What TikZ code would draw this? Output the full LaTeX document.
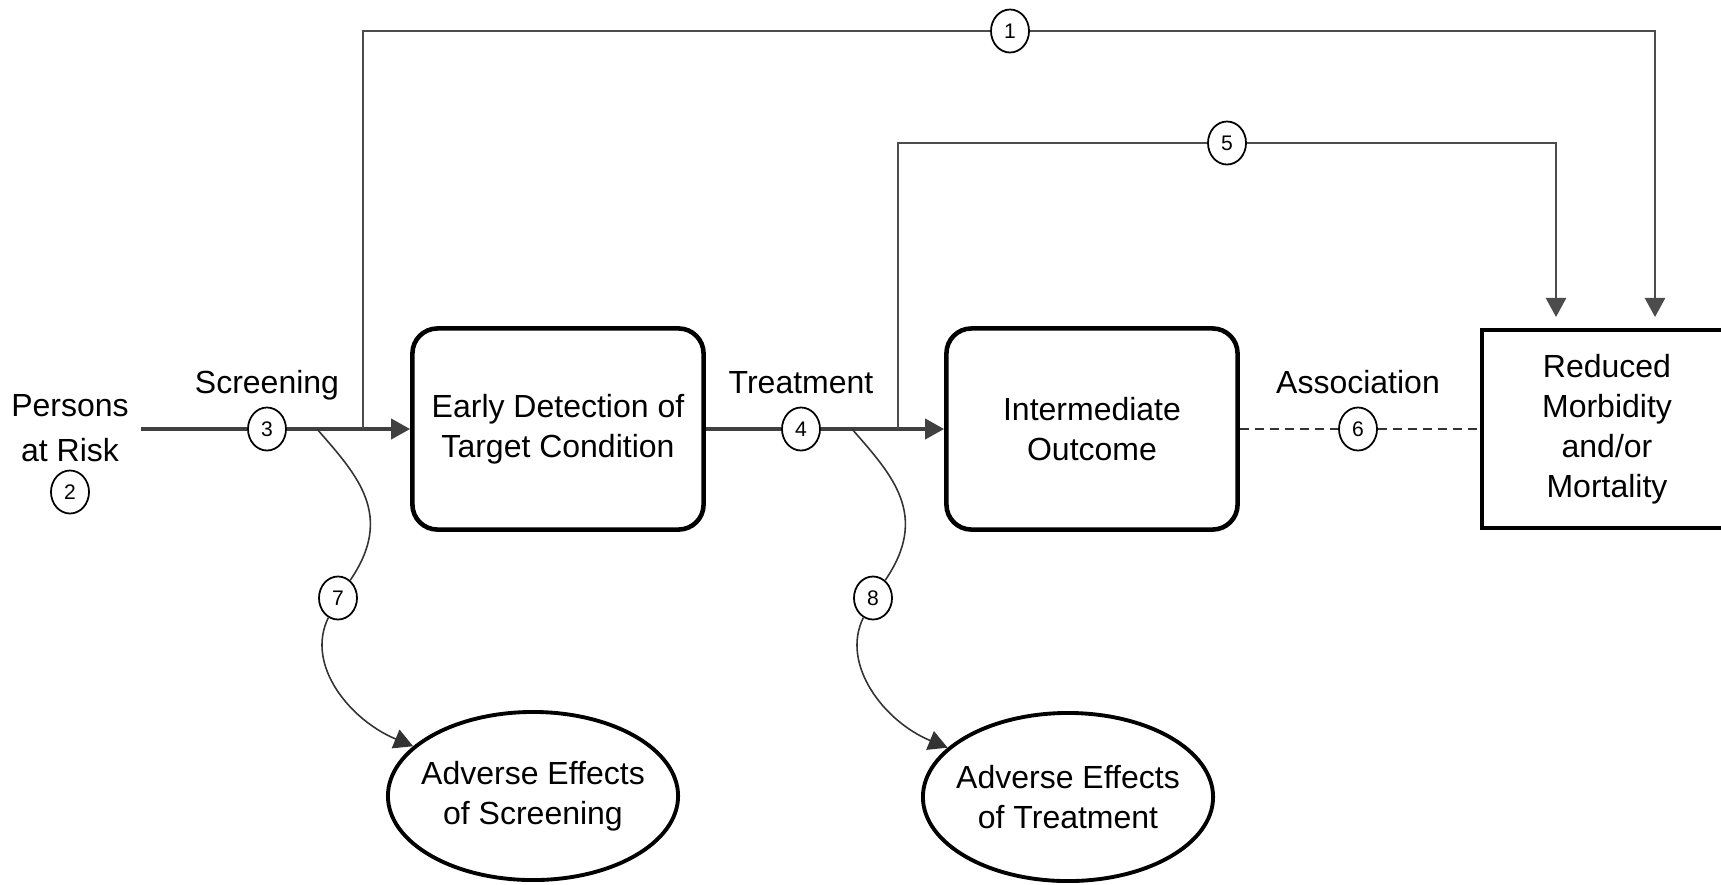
\documentclass[tikz,border=0pt]{standalone}
\usepackage{fontspec}
\setmainfont{Liberation Sans}
\usetikzlibrary{arrows.meta,positioning,shapes.geometric}

\tikzset{
  stage/.style={draw, line width=1.3pt, rounded corners=0.25cm, minimum width=2.91cm, minimum height=2.01cm, align=center},
  outcome/.style={draw, line width=1.1pt, minimum width=2.5cm, minimum height=1.98cm, align=center},
  harm/.style={draw, ellipse, line width=1.1pt, inner ysep=0pt, inner xsep=-0.11cm, minimum width=2.9cm, minimum height=1.68cm, align=center},
  keyq/.style={draw, ellipse, line width=0.5pt, inner sep=0pt, minimum width=0.38cm, minimum height=0.43cm, font=\fontsize{6}{7}\selectfont},
  steplabel/.style={inner sep=0pt, text depth=0.22em},
  mainline/.style={draw=black!75, line width=1.1pt},
  pathline/.style={draw=black!70, line width=0.7pt},
  sideline/.style={draw=black!80, line width=0.45pt},
  assocline/.style={draw=black!80, line width=0.7pt, dash pattern=on 0.09cm off 0.06cm},
  leadsto/.style={-{Triangle[length=0.19cm,width=0.2cm]}}
}

\begin{document}
\begin{tikzpicture}[x=0.01cm, y=-0.01cm, font=\fontsize{9.1}{11.4}\selectfont]

  % page frame
  \useasboundingbox (0,0) rectangle (1721,884);

  % boxes along the pathway
  \node[stage] (detect) at (558,429) {Early Detection of\\Target Condition};
  \node[stage] (inter) at (1092,429) {Intermediate\\Outcome};
  \node[outcome] (reduced) at (1607,429) {Reduced\\Morbidity\\and/or\\Mortality};
  \node[harm] (harmscr) at (533,796) {Adverse Effects\\of Screening};
  \node[harm] (harmtrt) at (1068,797) {Adverse Effects\\of Treatment};

  % numbered key questions
  \node[keyq] (k1) at (1010,31) {1};
  \node[keyq] (k2) at (70,492) {2};
  \node[keyq] (k3) at (267,429) {3};
  \node[keyq] (k4) at (801,429) {4};
  \node[keyq] (k5) at (1227,143) {5};
  \node[keyq] (k6) at (1358,429) {6};
  \node[keyq] (k7) at (338,598) {7};
  \node[keyq] (k8) at (873,598) {8};

  % text labels
  \node[align=center] (persons) at (70,428) {Persons\\[0.05cm]at Risk};
  \node[steplabel, above=0.05cm of k3] (lscreen) {Screening};
  \node[steplabel, above=0.05cm of k4] (ltreat) {Treatment};
  \node[steplabel, above=0.05cm of k6] (lassoc) {Association};

  % branch points on the main line
  \coordinate (fork1) at (363,429);
  \coordinate (fork5) at (898,429);
  \coordinate (fork7) at (317,429);
  \coordinate (fork8) at (852,429);
  \coordinate (drop1) at (1655,317);
  \coordinate (drop5) at (1556,317);

  % main pathway
  \draw[mainline] (persons.east |- k3) -- (k3);
  \draw[mainline, leadsto] (k3) -- (detect.west);
  \draw[mainline] (detect.east) -- (k4);
  \draw[mainline, leadsto] (k4) -- (inter.west);
  \draw[assocline] (inter.east) -- (k6);
  \draw[assocline] (k6) -- (reduced.west);

  % overarching and intermediate paths
  \draw[pathline] (fork1) |- (k1);
  \draw[pathline, leadsto] (k1) -| (drop1);
  \draw[pathline] (fork5) |- (k5);
  \draw[pathline, leadsto] (k5) -| (drop5);

  % adverse effects
  \draw[sideline] (fork7) .. controls (357,475) and (395,515) .. (k7);
  \draw[sideline, leadsto] (k7) .. controls (305,665) and (350,720) .. (harmscr);
  \draw[sideline] (fork8) .. controls (892,475) and (930,515) .. (k8);
  \draw[sideline, leadsto] (k8) .. controls (840,665) and (885,722) .. (harmtrt);

\end{tikzpicture}
\end{document}
